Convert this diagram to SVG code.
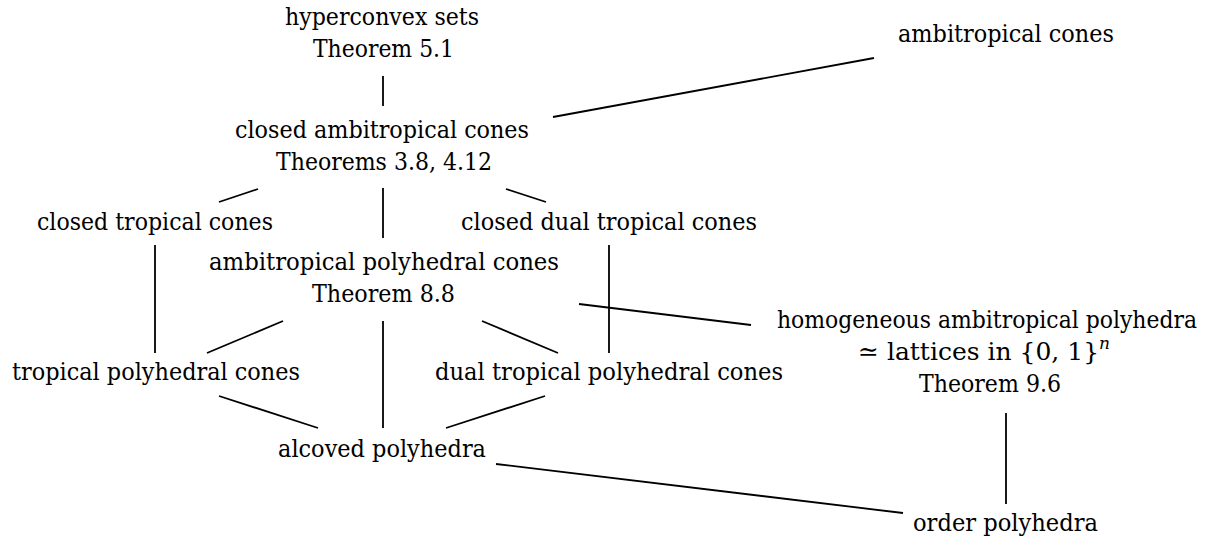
<svg xmlns="http://www.w3.org/2000/svg" width="1216" height="537" viewBox="0 0 1216 537">
<style>
text{font-family:"DejaVu Serif","Liberation Serif","Times New Roman",Tinos,"Noto Serif",serif;font-size:25px;fill:#000;text-anchor:middle}
.e line{stroke:#000;stroke-width:1.8;stroke-linecap:butt}
</style>
<rect width="1216" height="537" fill="#fff"/>
<g class="e" id="connectors">
<line x1="383" y1="76" x2="383" y2="106"/>
<line x1="553" y1="117" x2="874" y2="58"/>
<line x1="258" y1="189" x2="219" y2="202"/>
<line x1="383" y1="188" x2="383" y2="238"/>
<line x1="506" y1="189" x2="546" y2="202"/>
<line x1="155" y1="245" x2="155" y2="353"/>
<line x1="609" y1="245" x2="609" y2="353"/>
<line x1="283" y1="321" x2="207" y2="353"/>
<line x1="383" y1="321" x2="383" y2="428"/>
<line x1="482" y1="321" x2="558" y2="353"/>
<line x1="579" y1="304" x2="751" y2="325"/>
<line x1="219" y1="396" x2="318" y2="428"/>
<line x1="545" y1="396" x2="446" y2="428"/>
<line x1="496" y1="464" x2="903" y2="513"/>
<line x1="1006" y1="413" x2="1006" y2="504"/>
</g>
<g id="hyperconvex">
<text x="382" y="25" textLength="194" lengthAdjust="spacingAndGlyphs">hyperconvex sets</text>
<text x="383.5" y="57" textLength="141" lengthAdjust="spacingAndGlyphs">Theorem 5.1</text>
</g>
<g id="ambitropical-cones">
<text x="1006" y="42" textLength="216" lengthAdjust="spacingAndGlyphs">ambitropical cones</text>
</g>
<g id="closed-ambitropical">
<text x="382" y="138" textLength="294" lengthAdjust="spacingAndGlyphs">closed ambitropical cones</text>
<text x="384" y="170" textLength="216" lengthAdjust="spacingAndGlyphs">Theorems 3.8, 4.12</text>
</g>
<g id="closed-tropical">
<text x="155" y="230" textLength="236" lengthAdjust="spacingAndGlyphs">closed tropical cones</text>
</g>
<g id="closed-dual-tropical">
<text x="609" y="230" textLength="296" lengthAdjust="spacingAndGlyphs">closed dual tropical cones</text>
</g>
<g id="ambitropical-polyhedral">
<text x="384" y="270" textLength="350" lengthAdjust="spacingAndGlyphs">ambitropical polyhedral cones</text>
<text x="383.5" y="302" textLength="143" lengthAdjust="spacingAndGlyphs">Theorem 8.8</text>
</g>
<g id="tropical-polyhedral">
<text x="156" y="380" textLength="288" lengthAdjust="spacingAndGlyphs">tropical polyhedral cones</text>
</g>
<g id="dual-tropical-polyhedral">
<text x="609" y="380" textLength="348" lengthAdjust="spacingAndGlyphs">dual tropical polyhedral cones</text>
</g>
<g id="homogeneous">
<text x="987" y="328" font-size="22" textLength="420" lengthAdjust="spacingAndGlyphs">homogeneous ambitropical polyhedra</text>
<text x="984" y="360" font-size="23">≃ lattices in {0, 1}<tspan dy="-11" font-size="17" font-style="italic">n</tspan></text>
<text x="990" y="392" textLength="142" lengthAdjust="spacingAndGlyphs">Theorem 9.6</text>
</g>
<g id="alcoved">
<text x="382" y="457" textLength="208" lengthAdjust="spacingAndGlyphs">alcoved polyhedra</text>
</g>
<g id="order">
<text x="1005.5" y="531" textLength="185" lengthAdjust="spacingAndGlyphs">order polyhedra</text>
</g>
</svg>
